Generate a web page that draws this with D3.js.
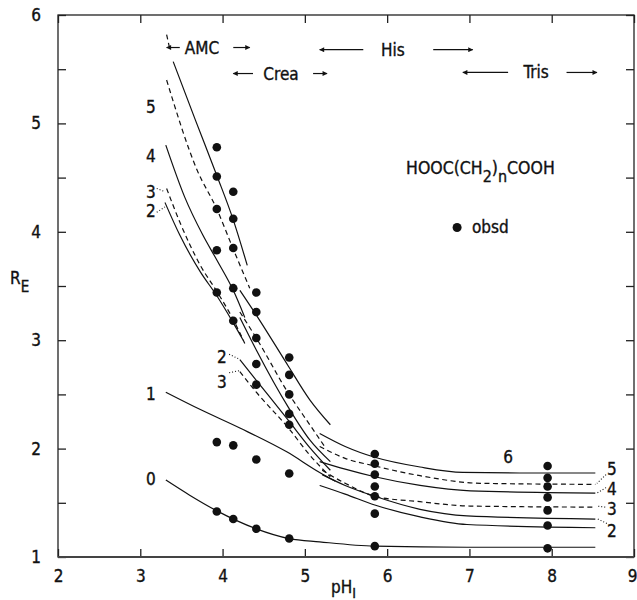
<html>
<head>
<meta charset="utf-8">
<title>RE vs pHI</title>
<style>
body { margin: 0; background: #fff; }
text { font-family: "DejaVu Sans Condensed", "Liberation Sans Narrow", sans-serif; fill: #111; stroke: #111; stroke-width: 0.35; }
.axis path { display: none; }
.axis line { stroke: #222; stroke-width: 1.3; }
.axis text { font-family: "DejaVu Sans Condensed", "Liberation Sans Narrow", sans-serif; font-size: 17px; fill: #111; }
.curve { fill: none; stroke: #111; stroke-width: 1.2; }
.leader { fill: none; stroke: #111; stroke-width: 1.1; stroke-dasharray: 1,2; }
</style>
</head>
<body>
<script src="https://cdn.jsdelivr.net/npm/d3@7/dist/d3.min.js"></script>
<script>

var width = 637;
var height = 600;

// axis ticks
var phTicks = [2, 3, 4, 5, 6, 7, 8, 9];
var reTicks = [1, 1.5, 2, 2.5, 3, 3.5, 4, 4.5, 5, 5.5, 6];

// observed points, one column per pH
var obsPH = [3.93, 4.13, 4.41, 4.81, 5.85, 7.95];
var obsRE = [
  [4.78, 4.51, 4.21, 3.83, 3.44, 2.06, 1.42],
  [4.37, 4.12, 3.85, 3.48, 3.18, 2.03, 1.35],
  [3.44, 3.26, 3.02, 2.78, 2.59, 1.90, 1.26],
  [2.84, 2.68, 2.50, 2.32, 2.22, 1.77, 1.17],
  [1.95, 1.86, 1.76, 1.65, 1.56, 1.40, 1.10],
  [1.84, 1.73, 1.65, 1.55, 1.43, 1.29, 1.08]
];

// calculated curves, AMC buffer range
var amcTop = [[3.32, 5.82], [3.36, 5.68]];
var amc6 = [[3.40, 5.57], [3.67, 5.03], [3.93, 4.52], [4.13, 4.11], [4.30, 3.69]];
var amc5 = [[3.32, 5.40], [3.69, 4.57], [3.93, 4.21], [4.13, 3.84], [4.33, 3.48]];
var amc4 = [[3.31, 4.80], [3.54, 4.32], [3.76, 3.97], [3.93, 3.74], [4.13, 3.46], [4.27, 3.21]];
var amc3 = [[3.32, 4.40], [3.48, 4.09], [3.73, 3.69], [3.93, 3.45], [4.13, 3.19], [4.27, 2.97]];
var amc2 = [[3.30, 4.27], [3.48, 3.97], [3.73, 3.63], [3.93, 3.41], [4.13, 3.16], [4.25, 3.00]];

// Crea buffer range
var crea6 = [[4.21, 3.46], [4.42, 3.22], [4.80, 2.76], [5.06, 2.45], [5.31, 2.22]];
var crea5 = [[4.21, 3.26], [4.41, 3.02], [4.80, 2.51], [5.06, 2.22], [5.24, 2.02]];
var crea4 = [[4.21, 3.21], [4.41, 2.91], [4.80, 2.38], [5.06, 2.08], [5.31, 1.88]];
var crea3 = [[4.21, 2.71], [4.41, 2.52], [4.80, 2.19], [5.06, 1.94], [5.31, 1.74]];
var crea2 = [[4.21, 2.82], [4.41, 2.63], [4.80, 2.26], [5.06, 2.01], [5.31, 1.80]];

// His / Tris buffer range
var his6 = [[5.18, 2.14], [5.49, 2.02], [5.85, 1.92], [6.40, 1.83], [6.92, 1.78], [7.61, 1.775], [8.53, 1.775]];
var his5 = [[5.18, 2.02], [5.49, 1.91], [5.85, 1.84], [6.40, 1.75], [7.13, 1.68], [8.53, 1.67]];
var his4 = [[5.18, 1.88], [5.49, 1.81], [5.85, 1.74], [6.40, 1.66], [7.01, 1.61], [8.53, 1.59]];
var his3 = [[5.21, 1.80], [5.49, 1.68], [5.85, 1.56], [6.40, 1.51], [7.01, 1.47], [8.53, 1.46]];
var his2 = [[5.21, 1.76], [5.49, 1.66], [5.85, 1.56], [6.40, 1.44], [6.97, 1.38], [8.53, 1.35]];
var his1 = [[5.18, 1.66], [5.49, 1.58], [5.85, 1.48], [6.40, 1.37], [6.97, 1.30], [8.53, 1.27]];

// n = 1 and n = 0 from low pH
var low1 = [[3.31, 2.52], [3.73, 2.36], [4.21, 2.19], [4.78, 1.97], [5.18, 1.78], [5.37, 1.70]];
var all0 = [[3.31, 1.71], [3.60, 1.57], [3.92, 1.43], [4.41, 1.26], [4.81, 1.17], [5.18, 1.14], [5.85, 1.10], [6.97, 1.09], [8.53, 1.09]];

var segments = [
  {n: 7, pts: amcTop}, {n: 6, pts: amc6}, {n: 5, pts: amc5}, {n: 4, pts: amc4}, {n: 3, pts: amc3}, {n: 2, pts: amc2},
  {n: 6, pts: crea6}, {n: 5, pts: crea5}, {n: 4, pts: crea4}, {n: 3, pts: crea3}, {n: 2, pts: crea2},
  {n: 6, pts: his6}, {n: 5, pts: his5}, {n: 4, pts: his4}, {n: 3, pts: his3}, {n: 2, pts: his2}, {n: 1, pts: his1},
  {n: 1, pts: low1}, {n: 0, pts: all0}
];
var dashedN = [3, 5, 7];

// buffer ranges shown with arrows
var bufName = ["AMC", "Crea", "His", "Tris"];
var bufFrom = [3.32, 4.13, 5.18, 6.92];
var bufInL = [3.48, 4.37, 5.71, 7.47];
var bufInR = [4.13, 5.10, 6.56, 8.18];
var bufTo = [4.33, 5.27, 7.04, 8.55];
var bufLabel = [3.75, 4.71, 6.07, 7.81];
var bufRE = [5.70, 5.46, 5.68, 5.47];

// curve number labels
var labText = ["5", "4", "3", "2", "1", "0", "2", "3", "5", "4", "3", "2", "6"];
var labPH = [3.13, 3.13, 3.13, 3.13, 3.13, 3.13, 3.99, 3.99, 8.73, 8.73, 8.73, 8.73, 7.47];
var labRE = [5.10, 4.64, 4.31, 4.14, 2.45, 1.66, 2.79, 2.56, 1.756, 1.57, 1.387, 1.185, 1.87];

var leaders = [
  [[3.20, 4.40], [3.30, 4.37]], [[3.20, 4.18], [3.30, 4.23]],
  [[4.08, 2.87], [4.19, 2.83]], [[4.08, 2.70], [4.21, 2.72]],
  [[8.66, 1.76], [8.55, 1.68]], [[8.66, 1.64], [8.55, 1.59]],
  [[8.65, 1.46], [8.55, 1.47]], [[8.67, 1.31], [8.56, 1.35]]
];

var x = d3.scaleLinear().domain([2, 9]).range([58, 634]);
var y = d3.scaleLinear().domain([1, 6]).range([557, 15]);

var svg = d3.select("body")
  .append("svg")
  .attr("width", width)
  .attr("height", height);

svg.append("defs").append("marker")
  .attr("id", "head")
  .attr("viewBox", "0 0 10 10")
  .attr("refX", 9).attr("refY", 5)
  .attr("markerWidth", 7).attr("markerHeight", 5)
  .attr("markerUnits", "userSpaceOnUse")
  .attr("orient", "auto")
  .append("path")
  .attr("d", "M0,0L10,5L0,10z")
  .attr("fill", "#111");

// axes, ticks pointing inward
var xAxis = svg.append("g")
  .attr("class", "axis")
  .attr("transform", "translate(0,557)")
  .call(d3.axisBottom(x).tickValues(phTicks).tickSizeInner(-8).tickSizeOuter(0).tickPadding(13)
    .tickFormat(d3.format("d")));
// last label sits at the image edge
xAxis.selectAll(".tick text")
  .filter(function(d) { return d === 9; })
  .attr("text-anchor", "end")
  .attr("x", 3);

svg.append("g")
  .attr("class", "axis")
  .attr("transform", "translate(0,15)")
  .call(d3.axisTop(x).tickValues(phTicks).tickSizeInner(-8).tickSizeOuter(0).tickFormat(""));

svg.append("g")
  .attr("class", "axis")
  .attr("transform", "translate(58,0)")
  .call(d3.axisLeft(y).tickValues(reTicks).tickSizeInner(-8).tickSizeOuter(0).tickPadding(17)
    .tickFormat(function(d) { return d % 1 === 0 ? d : ""; }));

svg.append("g")
  .attr("class", "axis")
  .attr("transform", "translate(634,0)")
  .call(d3.axisRight(y).tickValues(reTicks).tickSizeInner(-8).tickSizeOuter(0).tickFormat(""));

// frame
svg.append("rect")
  .attr("x", x(2)).attr("y", y(6))
  .attr("width", x(9) - x(2)).attr("height", y(1) - y(6))
  .attr("fill", "none").attr("stroke", "#222").attr("stroke-width", 1.3);
svg.append("line")
  .attr("x1", x(2)).attr("x2", x(9))
  .attr("y1", y(1)).attr("y2", y(1))
  .attr("stroke", "#444").attr("stroke-width", 2.2);

var line = d3.line()
  .x(function(d) { return x(d[0]); })
  .y(function(d) { return y(d[1]); })
  .curve(d3.curveMonotoneX);

svg.selectAll(".curve")
  .data(segments)
  .enter()
  .append("path")
  .attr("class", "curve")
  .attr("d", function(d) { return line(d.pts); })
  .attr("stroke-dasharray", function(d) { return dashedN.indexOf(d.n) >= 0 ? "5,3.5" : null; });

svg.selectAll(".leader")
  .data(leaders)
  .enter()
  .append("path")
  .attr("class", "leader")
  .attr("d", d3.line().x(function(d) { return x(d[0]); }).y(function(d) { return y(d[1]); }));

// observed dots
var dots = [];
obsPH.forEach(function(p, i) {
  obsRE[i].forEach(function(r) { dots.push([p, r]); });
});
svg.selectAll(".dot")
  .data(dots)
  .enter()
  .append("circle")
  .attr("class", "dot")
  .attr("cx", function(d) { return x(d[0]); })
  .attr("cy", function(d) { return y(d[1]); })
  .attr("r", 4.3)
  .attr("fill", "#111");

// curve labels
svg.selectAll(".lab")
  .data(labText)
  .enter()
  .append("text")
  .attr("class", "lab")
  .attr("x", function(d, i) { return x(labPH[i]); })
  .attr("y", function(d, i) { return y(labRE[i]); })
  .attr("text-anchor", "middle")
  .attr("font-size", 17)
  .text(function(d) { return d; });

// buffer ranges
bufName.forEach(function(name, i) {
  var yy = y(bufRE[i]);
  svg.append("text")
    .attr("x", x(bufLabel[i]))
    .attr("y", yy + 6)
    .attr("text-anchor", "middle")
    .attr("font-size", 17)
    .text(name);
  svg.append("line")
    .attr("x1", x(bufInL[i])).attr("x2", x(bufFrom[i]))
    .attr("y1", yy).attr("y2", yy)
    .attr("stroke", "#111").attr("stroke-width", 1.2)
    .attr("marker-end", "url(#head)");
  svg.append("line")
    .attr("x1", x(bufInR[i])).attr("x2", x(bufTo[i]))
    .attr("y1", yy).attr("y2", yy)
    .attr("stroke", "#111").attr("stroke-width", 1.2)
    .attr("marker-end", "url(#head)");
});

// formula and legend
var formula = svg.append("text")
  .attr("x", x(6.23)).attr("y", y(4.53))
  .attr("font-size", 17.5);
formula.append("tspan").text("HOOC(CH");
formula.append("tspan").attr("dy", 8).attr("font-size", 16).text("2");
formula.append("tspan").attr("dy", -8).text(")");
formula.append("tspan").attr("dy", 8).attr("font-size", 16).text("n");
formula.append("tspan").attr("dy", -8).text("COOH");

svg.append("circle")
  .attr("cx", x(6.85)).attr("cy", y(4.04))
  .attr("r", 4.5).attr("fill", "#111");
svg.append("text")
  .attr("x", x(7.03)).attr("y", y(3.99))
  .attr("font-size", 17)
  .text("obsd");

// axis titles
var yt = svg.append("text").attr("x", 10).attr("y", 284).attr("font-size", 17);
yt.append("tspan").text("R");
yt.append("tspan").attr("dy", 8).attr("font-size", 15).text("E");

var xt = svg.append("text").attr("x", 331).attr("y", 593).attr("font-size", 17);
xt.append("tspan").text("pH");
xt.append("tspan").attr("dy", 5).attr("font-size", 14).text("I");

</script>
</body>
</html>
